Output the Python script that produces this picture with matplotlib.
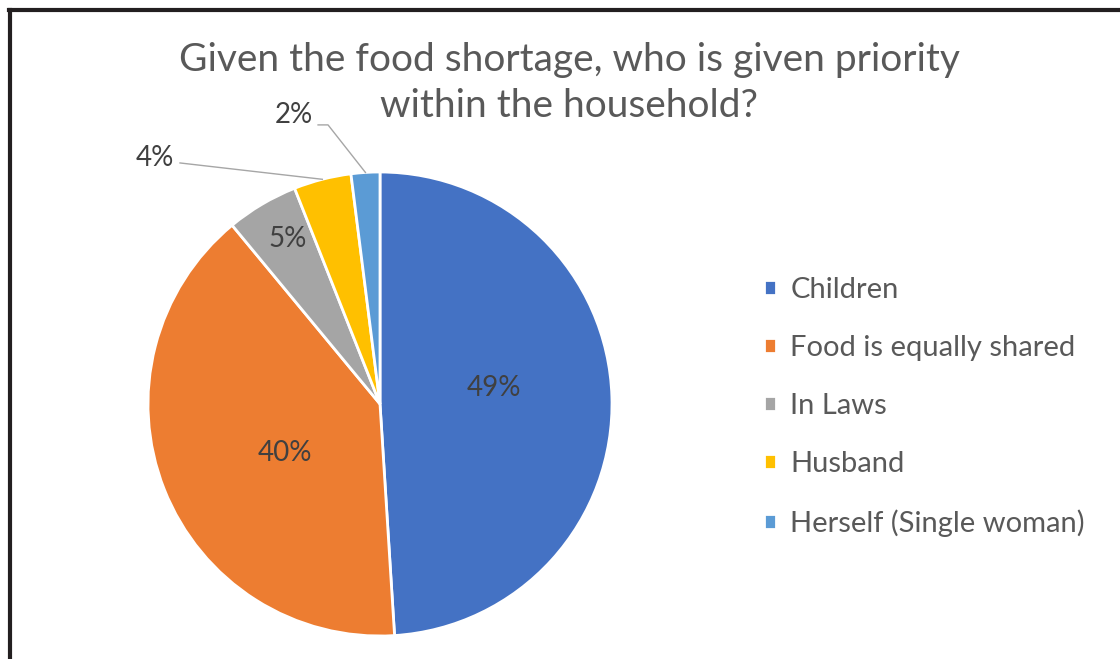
import matplotlib
matplotlib.use("Agg")
import matplotlib.pyplot as plt
from matplotlib.lines import Line2D
import numpy as np

plt.rcParams['font.family'] = ['Lato', 'DejaVu Sans']

categories = ["Children", "Food is equally shared", "In Laws", "Husband",
              "Herself (Single woman)"]
shares = [49, 40, 5, 4, 2]
colors = ["#4472C4", "#ED7D31", "#A5A5A5", "#FFC000", "#5B9BD5"]
title_lines = ["Given the food shortage, who is given priority",
               "within the household?"]

W, H = 1120, 659
fig = plt.figure(figsize=(W / 100, H / 100), dpi=100)

# pie sits in a square axes, centre (380, 404) px, radius 232 px
cx, cy, r = 380, 404, 232
ax = fig.add_axes([(cx - r) / W, (H - cy - r) / H, 2 * r / W, 2 * r / H])
wedges, _ = ax.pie(shares, colors=colors, startangle=90, counterclock=False,
                   radius=1, wedgeprops=dict(edgecolor="white", linewidth=2))
ax.set_xlim(-1, 1)
ax.set_ylim(-1, 1)
ax.set_aspect("equal")
ax.axis("off")

lbl = dict(fontsize=20, color="#404040", ha="center", va="center")
inside = {0: (0.49, 0.07), 1: (-0.41, -0.21), 2: (-0.40, 0.71)}
for i, (x, y) in inside.items():
    ax.text(x, y, f"{shares[i]}%", **lbl)

# outside labels: (label x, label y, leader path before the rim point)
outside = {3: (-0.97, 1.06, [(-0.862, 1.039)]),
           4: (-0.37, 1.246, [(-0.267, 1.203), (-0.224, 1.203)])}
for i, (tx, ty, path) in outside.items():
    w = wedges[i]
    mid = np.deg2rad((w.theta1 + w.theta2) / 2)
    ax.text(tx, ty, f"{shares[i]}%", clip_on=False, **lbl)
    xs = [p[0] for p in path] + [np.cos(mid)]
    ys = [p[1] for p in path] + [np.sin(mid)]
    ax.plot(xs, ys, color="#A6A6A6", lw=1, clip_on=False)

# title as two centred lines
for line, y in zip(title_lines, [60, 106]):
    fig.text(569 / W, 1 - y / H, line, ha="center", va="center", fontsize=28,
             color="#595959")

fig.legend(wedges, categories, loc="center left",
           bbox_to_anchor=(764 / W, 1 - 407 / H), frameon=False, fontsize=21,
           handlelength=0.4, handleheight=0.4, handletextpad=0.5,
           labelspacing=1.1, labelcolor="#595959", borderaxespad=0,
           borderpad=0)

# frame lines along top and left edges
fig.add_artist(Line2D([9 / W, 1], [1 - 9.5 / H] * 2, transform=fig.transFigure,
                      color="#231F20", lw=3))
fig.add_artist(Line2D([10 / W] * 2, [0, 1 - 9.5 / H], transform=fig.transFigure,
                      color="#231F20", lw=3))

fig.savefig("out.png", dpi=100, facecolor="white")
